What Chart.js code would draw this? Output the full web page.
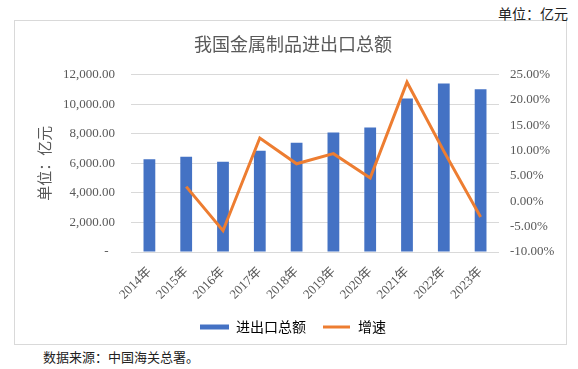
<!DOCTYPE html>
<html>
<head>
<meta charset="utf-8">
<script src="https://cdn.jsdelivr.net/npm/chart.js@4.4.1/dist/chart.umd.min.js"></script>
<style>
  html, body { margin: 0; padding: 0; background: #fff; }
  #wrap { position: relative; width: 578px; height: 369px; overflow: hidden; }
  #frame { position: absolute; left: 14px; top: 20px; width: 551px; height: 323px; border: 1px solid #d9d9d9; }
  #chart { position: absolute; left: 0; top: 0; }
  #unit { position: absolute; right: 10px; top: 3px; font: 14px 'Noto Sans CJK SC', sans-serif; color: #222; }
  #source { position: absolute; left: 43px; top: 347px; font: 13px 'Noto Sans CJK SC', sans-serif; color: #222; }
</style>
</head>
<body>
<div id="wrap">
  <div id="frame"></div>
  <div id="unit">单位：亿元</div>
  <div id="source">数据来源：中国海关总署。</div>
  <canvas id="chart" width="578" height="369"></canvas>
</div>
<script>
const YEARS = ['2014年', '2015年', '2016年', '2017年', '2018年', '2019年', '2020年', '2021年', '2022年', '2023年'];
// 进出口总额, 亿元
const TOTAL = [6280, 6440, 6100, 6845, 7385, 8090, 8425, 10385, 11400, 11010];
// 增速, %
const GROWTH = [null, 2.9, -5.8, 12.5, 7.4, 9.4, 4.6, 23.5, 9.9, -3.1];

const BLUE = '#4472c4';
const ORANGE = '#ed7d31';
const GREY = '#595959';
const SERIF = "'Liberation Serif', 'Noto Sans CJK SC', serif";
const CJK = "'Noto Sans CJK SC', sans-serif";

new Chart(document.getElementById('chart').getContext('2d'), {
  data: {
    labels: YEARS,
    datasets: [
      {
        type: 'bar',
        label: '进出口总额',
        data: TOTAL,
        backgroundColor: BLUE,
        yAxisID: 'y',
        barPercentage: 0.32,
        categoryPercentage: 1,
        order: 2,
      },
      {
        type: 'line',
        label: '增速',
        data: GROWTH,
        borderColor: ORANGE,
        backgroundColor: ORANGE,
        borderWidth: 3,
        pointRadius: 0,
        tension: 0,
        yAxisID: 'y1',
        order: 1,
      },
    ],
  },
  options: {
    responsive: false,
    animation: false,
    layout: { padding: { top: 22, left: 20, right: 12, bottom: 25 } },
    plugins: {
      tooltip: { enabled: false },
      title: {
        display: true,
        text: '我国金属制品进出口总额',
        color: GREY,
        font: { family: CJK, size: 18, weight: 'normal' },
        padding: { top: 11, bottom: 20 },
      },
      legend: {
        position: 'bottom',
        labels: {
          color: GREY,
          font: { family: CJK, size: 14 },
          boxWidth: 29,
          boxHeight: 5,
          padding: 16,
          generateLabels: chart => chart.data.datasets.map((ds, i) => ({
            text: ds.label,
            fillStyle: i === 0 ? BLUE : ORANGE,
            strokeStyle: '#fff',
            lineWidth: i === 0 ? 0 : 2,
            datasetIndex: i,
          })),
        },
      },
    },
    scales: {
      x: {
        grid: { display: false },
        border: { display: false },
        ticks: {
          color: GREY,
          font: { family: SERIF, size: 13 },
          minRotation: 45,
          maxRotation: 45,
          padding: 4,
        },
        afterFit: scale => { scale.height = 52; },
      },
      y: {
        position: 'left',
        min: 0,
        max: 12000,
        border: { display: false },
        grid: { color: '#d9d9d9', drawTicks: false },
        ticks: {
          stepSize: 2000,
          padding: 16,
          color: GREY,
          font: { family: SERIF, size: 13 },
          callback: v => v === 0 ? '-  ' : v.toLocaleString('en-US', { minimumFractionDigits: 2, maximumFractionDigits: 2 }),
        },
        title: {
          display: true,
          text: '单位：亿元',
          color: GREY,
          font: { family: CJK, size: 15, weight: 'normal' },
          padding: { top: 15 },
        },
        afterFit: scale => { scale.width = 111; },
      },
      y1: {
        position: 'right',
        min: -10,
        max: 25,
        border: { display: false },
        grid: { display: false, drawTicks: false },
        ticks: {
          stepSize: 5,
          padding: 11,
          color: GREY,
          font: { family: SERIF, size: 13 },
          callback: v => v.toFixed(2) + '%',
        },
        afterFit: scale => { scale.width = 67; },
      },
    },
  },
});
</script>
</body>
</html>
